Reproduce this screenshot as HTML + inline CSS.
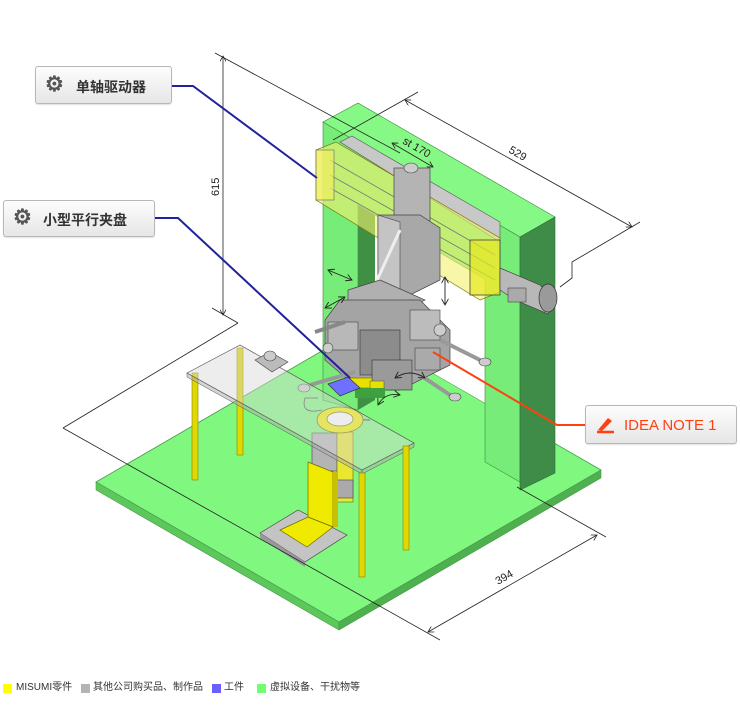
<!DOCTYPE html>
<html><head><meta charset="utf-8"><style>
html,body{margin:0;padding:0;background:#fff;}
body{width:740px;height:710px;position:relative;overflow:hidden;font-family:"Liberation Sans","Noto Sans CJK SC",sans-serif;}
.lbl{position:absolute;box-sizing:border-box;border:1px solid #b8b8b8;border-radius:3px;background:linear-gradient(#fdfdfd,#e6e6e6);box-shadow:0 1px 1px rgba(0,0,0,.12);font-weight:bold;font-size:14px;color:#333;}
.leg{position:absolute;top:682px;font-size:10px;color:#333;line-height:12px;}
.sq{position:absolute;top:684px;width:9px;height:9px;}
</style></head><body>
<svg width="740" height="710" style="position:absolute;left:0;top:0" xmlns="http://www.w3.org/2000/svg">
<defs>
<marker id="a" markerWidth="8" markerHeight="8" refX="7" refY="4" orient="auto-start-reverse"><path d="M0,0 L7,4 L0,8" fill="none" stroke="#222" stroke-width="1"/></marker>
</defs>
<polygon points="96,482 358,330 601,470 339,622" fill="#80f880" stroke="#4a9a4a" stroke-width="0.8"/>
<polygon points="96,482 339,622 339,630 96,490" fill="#5cc85c" stroke="#4a9a4a" stroke-width="0.6"/>
<polygon points="339,622 601,470 601,478 339,630" fill="#4fb04f" stroke="#4a9a4a" stroke-width="0.6"/>
<polygon points="358,205 485,279 485,403 358,330" fill="#fff"/>
<polygon points="323,122 358,103 555,217 520,237" fill="#86f886" stroke="#3d8a3d" stroke-width="0.6"/>
<polygon points="323,122 520,237 520,482 485,462 485,279 358,205 358,410 323,400" fill="#78ec78" stroke="#3d8a3d" stroke-width="0.6"/>
<polygon points="358,205 375,215 375,400 358,410" fill="#3f8f45"/>
<polygon points="520,237 555,217 555,473 520,490" fill="#3e8c48" stroke="#2f6f35" stroke-width="0.6"/>
<polygon points="340,142 352,136 500,222 500,242" fill="#c8c8c8" stroke="#555" stroke-width="0.6"/>
<polygon points="316,150 336,142 500,238 500,292 480,300 316,200" fill="#f2f070" fill-opacity="0.6" stroke="#7a7a10" stroke-width="0.7"/>
<line x1="330" y1="160" x2="495" y2="255" stroke="#777" stroke-width="0.8"/>
<line x1="330" y1="175" x2="495" y2="268" stroke="#777" stroke-width="0.8"/>
<line x1="330" y1="188" x2="495" y2="280" stroke="#777" stroke-width="0.8"/>
<rect x="316" y="150" width="18" height="50" fill="#f0f060" fill-opacity=".7" stroke="#666" stroke-width="0.6"/>
<rect x="470" y="240" width="30" height="55" fill="#e8e820" fill-opacity=".7" stroke="#444" stroke-width="0.8"/>
<polygon points="500,268 540,285 555,300 548,314 515,300 500,290" fill="#b8b8b8" stroke="#444" stroke-width="0.7"/>
<ellipse cx="548" cy="298" rx="9" ry="14" fill="#9a9a9a" stroke="#333" stroke-width="0.7"/>
<rect x="508" y="288" width="18" height="14" fill="#aaa" stroke="#444" stroke-width="0.6"/>
<rect x="394" y="168" width="36" height="60" fill="#b4b4b4" stroke="#444" stroke-width="0.7"/>
<ellipse cx="411" cy="168" rx="7" ry="5" fill="#ccc" stroke="#444" stroke-width="0.6"/>
<polygon points="378,215 420,215 440,228 440,280 400,300 378,290" fill="#a8a8a8" stroke="#444" stroke-width="0.7"/>
<polygon points="378,215 400,222 400,300 378,290" fill="#c4c4c4" stroke="#444" stroke-width="0.6"/>
<line x1="400" y1="230" x2="368" y2="300" stroke="#eee" stroke-width="3"/>
<polygon points="348,290 380,280 425,300 390,318 348,305" fill="#b0b0b0" stroke="#444" stroke-width="0.7"/>
<polygon points="340,300 420,300 450,330 450,365 400,390 360,390 325,360 325,320" fill="#a4a4a4" stroke="#444" stroke-width="0.7"/>
<rect x="328" y="322" width="30" height="28" fill="#b8b8b8" stroke="#444" stroke-width="0.6"/>
<rect x="410" y="310" width="30" height="30" fill="#bcbcbc" stroke="#444" stroke-width="0.6"/>
<rect x="360" y="330" width="40" height="45" fill="#8c8c8c" stroke="#333" stroke-width="0.6"/>
<rect x="372" y="360" width="40" height="30" fill="#9a9a9a" stroke="#333" stroke-width="0.6"/>
<rect x="415" y="348" width="25" height="22" fill="#aaa" stroke="#444" stroke-width="0.6"/>
<circle cx="440" cy="330" r="6" fill="#ccc" stroke="#444" stroke-width="0.6"/>
<circle cx="328" cy="348" r="5" fill="#ccc" stroke="#444" stroke-width="0.6"/>
<line x1="315" y1="332" x2="345" y2="322" stroke="#888" stroke-width="4"/>
<line x1="440" y1="340" x2="480" y2="360" stroke="#999" stroke-width="4"/>
<ellipse cx="485" cy="362" rx="6" ry="4" fill="#ccc" stroke="#444" stroke-width="0.6"/>
<line x1="420" y1="375" x2="450" y2="395" stroke="#999" stroke-width="4"/>
<ellipse cx="455" cy="397" rx="6" ry="4" fill="#ccc" stroke="#444" stroke-width="0.6"/>
<line x1="355" y1="372" x2="310" y2="385" stroke="#999" stroke-width="4"/>
<ellipse cx="304" cy="388" rx="6" ry="4" fill="#ccc" stroke="#444" stroke-width="0.6"/>
<rect x="350" y="378" width="22" height="10" fill="#e8e000" stroke="#6a6a00" stroke-width="0.6"/>
<rect x="370" y="381" width="14" height="8" fill="#e8e000" stroke="#6a6a00" stroke-width="0.6"/>
<rect x="355" y="388" width="30" height="10" fill="#3fa03f"/>
<polygon points="328,384 348,377 360,388 340,396" fill="#7070ff" stroke="#333" stroke-width="0.7"/>
<g fill="none" stroke="#222" stroke-width="0.9">
<line x1="328" y1="270" x2="352" y2="280" marker-start="url(#a)" marker-end="url(#a)"/>
<line x1="325" y1="308" x2="345" y2="297" marker-start="url(#a)" marker-end="url(#a)"/>
<line x1="445" y1="277" x2="445" y2="305" marker-start="url(#a)" marker-end="url(#a)"/>
<path d="M395,378 Q410,368 425,378" marker-start="url(#a)" marker-end="url(#a)"/>
<path d="M378,405 Q385,392 400,395" marker-start="url(#a)" marker-end="url(#a)"/>
<path d="M350,408 Q345,420 370,420" marker-start="url(#a)"/>
</g>
<rect x="312" y="433" width="25" height="38" fill="#b4b4b4" stroke="#444" stroke-width="0.6"/>
<rect x="337" y="432" width="16" height="70" fill="#e8e830" stroke="#6a6a00" stroke-width="0.6"/>
<rect x="335" y="480" width="18" height="18" fill="#aaa" stroke="#444" stroke-width="0.6"/>
<ellipse cx="340" cy="420" rx="23" ry="13" fill="#f0f000" stroke="#6a6a00" stroke-width="0.8"/>
<ellipse cx="340" cy="419" rx="13" ry="7" fill="#fff" stroke="#6a6a00" stroke-width="0.7"/>
<path d="M322,410 Q300,415 305,398 L318,398" fill="none" stroke="#444" stroke-width="0.8"/>
<polygon points="260,533 298,510 347,535 305,562" fill="#c4c4c4" stroke="#444" stroke-width="0.7"/>
<polygon points="260,533 305,562 305,567 260,538" fill="#999"/>
<polygon points="308,462 333,472 333,527 308,517" fill="#f0ea00" stroke="#6a6a00" stroke-width="0.7"/>
<polygon points="280,530 308,517 333,527 307,547" fill="#f0ea00" stroke="#6a6a00" stroke-width="0.7"/>
<rect x="333" y="472" width="5" height="55" fill="#c8c000"/>
<g stroke="#8a8400" stroke-width="0.6">
<rect x="192" y="373" width="6" height="107" fill="#e0d800"/>
<rect x="237" y="348" width="6" height="107" fill="#e0d800"/>
</g>
<polygon points="187,373 240,345 414,443 362,470" fill="#d8d8d8" fill-opacity="0.45" stroke="#555" stroke-width="0.7"/>
<polygon points="187,373 362,470 362,474 187,377" fill="#aaa" fill-opacity="0.5" stroke="#555" stroke-width="0.5"/>
<polygon points="362,470 414,443 414,447 362,474" fill="#aaa" fill-opacity="0.5" stroke="#555" stroke-width="0.5"/>
<g stroke="#8a8400" stroke-width="0.6">
<rect x="359" y="473" width="6" height="104" fill="#e0d800"/>
<rect x="403" y="446" width="6" height="104" fill="#e0d800"/>
</g>
<polygon points="255,360 270,352 288,362 272,372" fill="#bbb" stroke="#444" stroke-width="0.6"/>
<ellipse cx="270" cy="356" rx="6" ry="5" fill="#ccc" stroke="#444" stroke-width="0.6"/>
<g fill="none" stroke="#222" stroke-width="0.8">
<line x1="223" y1="56" x2="223" y2="315" marker-start="url(#a)" marker-end="url(#a)"/>
<line x1="215" y1="53" x2="400" y2="153"/>
<line x1="212" y1="308" x2="238" y2="323"/>
<line x1="238" y1="323" x2="63" y2="428"/>
<line x1="63" y1="428" x2="440" y2="640"/>
<line x1="517" y1="487" x2="606" y2="537"/>
<line x1="428" y1="632" x2="597" y2="535" marker-start="url(#a)" marker-end="url(#a)"/>
<line x1="405" y1="100" x2="632" y2="227" marker-start="url(#a)" marker-end="url(#a)"/>
<line x1="418" y1="92" x2="333" y2="140"/>
<polyline points="640,222 572,262 572,278 560,287"/>
<line x1="392" y1="143" x2="433" y2="167" marker-start="url(#a)" marker-end="url(#a)"/>
</g>
<g font-family="Liberation Sans,sans-serif" font-size="11" fill="#222">
<text x="0" y="0" transform="translate(219,196) rotate(-90)">615</text>
<text x="0" y="0" transform="translate(508,152) rotate(30)">529</text>
<text x="0" y="0" transform="translate(402,143) rotate(30)">st 170</text>
<text x="0" y="0" transform="translate(498,585) rotate(-30)">394</text>
</g>
<polyline points="172,86 193,86 317,178" fill="none" stroke="#22229a" stroke-width="2"/>
<polyline points="155,218 178,218 350,378" fill="none" stroke="#22229a" stroke-width="2"/>
<polyline points="433,352 557,425 585,425" fill="none" stroke="#ff4010" stroke-width="2"/>
</svg>
<div class="lbl" style="left:35px;top:66px;width:137px;height:38px;"><span style="position:absolute;left:9px;top:7px;font-size:21px;color:#555;line-height:22px">⚙</span><span style="position:absolute;left:40px;top:10px;">单轴驱动器</span></div>
<div class="lbl" style="left:3px;top:200px;width:152px;height:37px;"><span style="position:absolute;left:9px;top:6px;font-size:21px;color:#555;line-height:22px">⚙</span><span style="position:absolute;left:39px;top:9px;">小型平行夹盘</span></div>
<div class="lbl" style="left:585px;top:405px;width:152px;height:39px;font-weight:normal;color:#ff4010;font-size:15px;"><svg width="22" height="20" style="position:absolute;left:9px;top:9px"><path d="M2,17 L19,17" stroke="#ff4010" stroke-width="2.5"/><path d="M3,15 L13,3 L17,6 L7,16 Z" fill="#ff4010"/></svg><span style="position:absolute;left:38px;top:11px;">IDEA NOTE 1</span></div>
<div class="sq" style="left:3px;background:#ffff00"></div><div class="leg" style="left:16px">MISUMI零件</div>
<div class="sq" style="left:81px;background:#b4b4b4"></div><div class="leg" style="left:93px">其他公司购买品、制作品</div>
<div class="sq" style="left:212px;background:#6a60ff"></div><div class="leg" style="left:224px">工件</div>
<div class="sq" style="left:257px;background:#70ff70"></div><div class="leg" style="left:270px">虚拟设备、干扰物等</div>
</body></html>
